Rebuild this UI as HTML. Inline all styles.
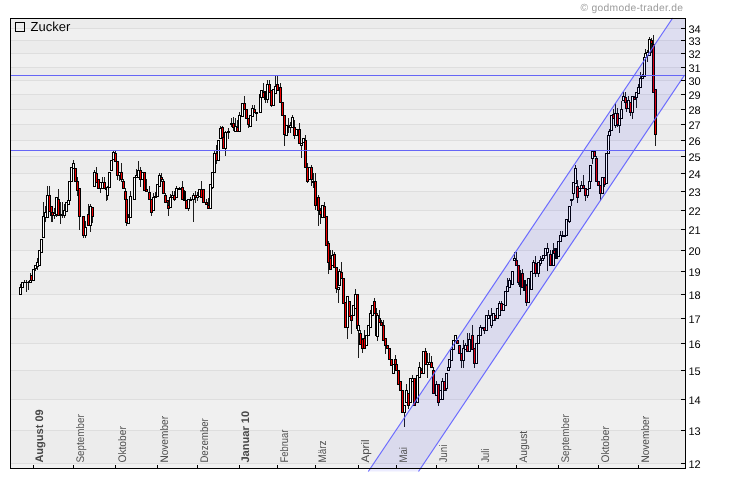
<!DOCTYPE html>
<html><head><meta charset="utf-8"><title>Zucker</title><style>html,body{margin:0;padding:0;background:#fff;}svg{will-change:transform;}svg text{text-rendering:geometricPrecision;}body{width:730px;height:481px;position:relative;overflow:hidden;font-family:"Liberation Sans",sans-serif;}</style></head><body>
<svg width="730" height="481" viewBox="0 0 730 481" style="position:absolute;left:0;top:0;font-family:'Liberation Sans',sans-serif">
<rect x="10" y="18" width="676" height="451" fill="#ececec"/>
<g shape-rendering="crispEdges"><rect x="11" y="463" width="674" height="5" fill="#f0f0f0"/><rect x="11" y="399" width="674" height="31" fill="#f0f0f0"/><rect x="11" y="343" width="674" height="27" fill="#f0f0f0"/><rect x="11" y="294" width="674" height="24" fill="#f0f0f0"/><rect x="11" y="250" width="674" height="21" fill="#f0f0f0"/><rect x="11" y="210" width="674" height="19" fill="#f0f0f0"/><rect x="11" y="173" width="674" height="18" fill="#f0f0f0"/><rect x="11" y="140" width="674" height="16" fill="#f0f0f0"/><rect x="11" y="109" width="674" height="15" fill="#f0f0f0"/><rect x="11" y="80" width="674" height="14" fill="#f0f0f0"/><rect x="11" y="53" width="674" height="14" fill="#f0f0f0"/><rect x="11" y="28" width="674" height="12" fill="#f0f0f0"/></g>
<g shape-rendering="crispEdges"><rect x="11" y="463" width="674" height="1" fill="#dedede"/><rect x="11" y="430" width="674" height="1" fill="#dedede"/><rect x="11" y="399" width="674" height="1" fill="#dedede"/><rect x="11" y="370" width="674" height="1" fill="#dedede"/><rect x="11" y="343" width="674" height="1" fill="#dedede"/><rect x="11" y="318" width="674" height="1" fill="#dedede"/><rect x="11" y="294" width="674" height="1" fill="#dedede"/><rect x="11" y="271" width="674" height="1" fill="#dedede"/><rect x="11" y="250" width="674" height="1" fill="#dedede"/><rect x="11" y="229" width="674" height="1" fill="#dedede"/><rect x="11" y="210" width="674" height="1" fill="#dedede"/><rect x="11" y="191" width="674" height="1" fill="#dedede"/><rect x="11" y="173" width="674" height="1" fill="#dedede"/><rect x="11" y="156" width="674" height="1" fill="#dedede"/><rect x="11" y="140" width="674" height="1" fill="#dedede"/><rect x="11" y="124" width="674" height="1" fill="#dedede"/><rect x="11" y="109" width="674" height="1" fill="#dedede"/><rect x="11" y="94" width="674" height="1" fill="#dedede"/><rect x="11" y="80" width="674" height="1" fill="#dedede"/><rect x="11" y="67" width="674" height="1" fill="#dedede"/><rect x="11" y="53" width="674" height="1" fill="#dedede"/><rect x="11" y="40" width="674" height="1" fill="#dedede"/><rect x="11" y="28" width="674" height="1" fill="#dedede"/></g>
<g shape-rendering="crispEdges"><rect x="43" y="202" width="1" height="36" fill="#1c1c1c"/><rect x="42" y="216" width="3" height="22" fill="#000"/><rect x="43" y="217" width="1" height="20" fill="#ffffff"/><rect x="45" y="206" width="1" height="16" fill="#1c1c1c"/><rect x="44" y="212" width="3" height="6" fill="#000"/><rect x="45" y="213" width="1" height="4" fill="#ffffff"/><rect x="47" y="186" width="1" height="32" fill="#1c1c1c"/><rect x="46" y="195" width="3" height="23" fill="#000"/><rect x="47" y="196" width="1" height="21" fill="#ffffff"/><rect x="49" y="186" width="1" height="26" fill="#1c1c1c"/><rect x="48" y="195" width="3" height="17" fill="#000"/><rect x="49" y="196" width="1" height="15" fill="#ee0000"/><rect x="51" y="206" width="1" height="16" fill="#1c1c1c"/><rect x="50" y="206" width="3" height="10" fill="#000"/><rect x="51" y="207" width="1" height="8" fill="#ee0000"/><rect x="52" y="212" width="1" height="10" fill="#1c1c1c"/><rect x="51" y="212" width="3" height="4" fill="#000"/><rect x="52" y="213" width="1" height="2" fill="#ee0000"/><rect x="54" y="208" width="1" height="11" fill="#1c1c1c"/><rect x="53" y="213" width="3" height="3" fill="#000"/><rect x="54" y="214" width="1" height="1" fill="#ffffff"/><rect x="56" y="197" width="1" height="20" fill="#1c1c1c"/><rect x="55" y="197" width="3" height="18" fill="#000"/><rect x="56" y="198" width="1" height="16" fill="#ffffff"/><rect x="58" y="189" width="1" height="27" fill="#1c1c1c"/><rect x="57" y="199" width="3" height="17" fill="#000"/><rect x="58" y="200" width="1" height="15" fill="#ee0000"/><rect x="60" y="202" width="1" height="22" fill="#1c1c1c"/><rect x="59" y="214" width="3" height="2" fill="#000"/><rect x="62" y="202" width="1" height="16" fill="#1c1c1c"/><rect x="61" y="215" width="3" height="1" fill="#000"/><rect x="64" y="204" width="1" height="14" fill="#1c1c1c"/><rect x="63" y="210" width="3" height="6" fill="#000"/><rect x="64" y="211" width="1" height="4" fill="#ffffff"/><rect x="66" y="202" width="1" height="10" fill="#1c1c1c"/><rect x="65" y="202" width="3" height="10" fill="#000"/><rect x="66" y="203" width="1" height="8" fill="#ffffff"/><rect x="68" y="200" width="1" height="5" fill="#1c1c1c"/><rect x="67" y="200" width="3" height="5" fill="#000"/><rect x="68" y="201" width="1" height="3" fill="#ffffff"/><rect x="20" y="284" width="1" height="11" fill="#1c1c1c"/><rect x="19" y="287" width="3" height="8" fill="#000"/><rect x="20" y="288" width="1" height="6" fill="#ffffff"/><rect x="22" y="282" width="1" height="6" fill="#1c1c1c"/><rect x="21" y="282" width="3" height="6" fill="#000"/><rect x="22" y="283" width="1" height="4" fill="#ffffff"/><rect x="24" y="280" width="1" height="3" fill="#1c1c1c"/><rect x="23" y="282" width="3" height="1" fill="#000"/><rect x="26" y="280" width="1" height="12" fill="#1c1c1c"/><rect x="25" y="282" width="3" height="1" fill="#000"/><rect x="28" y="281" width="1" height="9" fill="#1c1c1c"/><rect x="27" y="282" width="3" height="1" fill="#000"/><rect x="30" y="273" width="1" height="10" fill="#1c1c1c"/><rect x="29" y="280" width="3" height="3" fill="#000"/><rect x="30" y="281" width="1" height="1" fill="#ffffff"/><rect x="31" y="275" width="1" height="6" fill="#1c1c1c"/><rect x="30" y="275" width="3" height="6" fill="#000"/><rect x="31" y="276" width="1" height="4" fill="#ee0000"/><rect x="33" y="269" width="1" height="12" fill="#1c1c1c"/><rect x="32" y="269" width="3" height="12" fill="#000"/><rect x="33" y="270" width="1" height="10" fill="#ffffff"/><rect x="35" y="265" width="1" height="6" fill="#1c1c1c"/><rect x="34" y="265" width="3" height="4" fill="#000"/><rect x="35" y="266" width="1" height="2" fill="#ffffff"/><rect x="37" y="258" width="1" height="12" fill="#1c1c1c"/><rect x="36" y="262" width="3" height="5" fill="#000"/><rect x="37" y="263" width="1" height="3" fill="#ffffff"/><rect x="39" y="250" width="1" height="16" fill="#1c1c1c"/><rect x="38" y="250" width="3" height="16" fill="#000"/><rect x="39" y="251" width="1" height="14" fill="#ffffff"/><rect x="41" y="239" width="1" height="14" fill="#1c1c1c"/><rect x="40" y="239" width="3" height="14" fill="#000"/><rect x="41" y="240" width="1" height="12" fill="#ffffff"/><rect x="69" y="181" width="1" height="20" fill="#1c1c1c"/><rect x="68" y="181" width="3" height="20" fill="#000"/><rect x="69" y="182" width="1" height="18" fill="#ffffff"/><rect x="71" y="167" width="1" height="15" fill="#1c1c1c"/><rect x="70" y="167" width="3" height="15" fill="#000"/><rect x="71" y="168" width="1" height="13" fill="#ffffff"/><rect x="73" y="160" width="1" height="9" fill="#1c1c1c"/><rect x="72" y="163" width="3" height="6" fill="#000"/><rect x="73" y="164" width="1" height="4" fill="#ffffff"/><rect x="75" y="168" width="1" height="14" fill="#1c1c1c"/><rect x="74" y="168" width="3" height="14" fill="#000"/><rect x="75" y="169" width="1" height="12" fill="#ee0000"/><rect x="77" y="177" width="1" height="19" fill="#1c1c1c"/><rect x="76" y="181" width="3" height="10" fill="#000"/><rect x="77" y="182" width="1" height="8" fill="#ee0000"/><rect x="79" y="188" width="1" height="42" fill="#1c1c1c"/><rect x="78" y="188" width="3" height="29" fill="#000"/><rect x="79" y="189" width="1" height="27" fill="#ee0000"/><rect x="83" y="216" width="1" height="22" fill="#1c1c1c"/><rect x="82" y="216" width="3" height="20" fill="#000"/><rect x="83" y="217" width="1" height="18" fill="#ee0000"/><rect x="85" y="221" width="1" height="17" fill="#1c1c1c"/><rect x="84" y="227" width="3" height="9" fill="#000"/><rect x="85" y="228" width="1" height="7" fill="#ffffff"/><rect x="88" y="204" width="1" height="22" fill="#1c1c1c"/><rect x="87" y="214" width="3" height="12" fill="#000"/><rect x="88" y="215" width="1" height="10" fill="#ee0000"/><rect x="90" y="204" width="1" height="28" fill="#1c1c1c"/><rect x="89" y="206" width="3" height="20" fill="#000"/><rect x="90" y="207" width="1" height="18" fill="#ffffff"/><rect x="92" y="207" width="1" height="16" fill="#1c1c1c"/><rect x="91" y="207" width="3" height="10" fill="#000"/><rect x="92" y="208" width="1" height="8" fill="#ee0000"/><rect x="94" y="170" width="1" height="17" fill="#1c1c1c"/><rect x="93" y="172" width="3" height="15" fill="#000"/><rect x="94" y="173" width="1" height="13" fill="#ffffff"/><rect x="96" y="167" width="1" height="16" fill="#1c1c1c"/><rect x="95" y="173" width="3" height="10" fill="#000"/><rect x="96" y="174" width="1" height="8" fill="#ee0000"/><rect x="98" y="179" width="1" height="10" fill="#1c1c1c"/><rect x="97" y="179" width="3" height="10" fill="#000"/><rect x="98" y="180" width="1" height="8" fill="#ee0000"/><rect x="100" y="182" width="1" height="11" fill="#1c1c1c"/><rect x="99" y="182" width="3" height="7" fill="#000"/><rect x="100" y="183" width="1" height="5" fill="#ffffff"/><rect x="102" y="177" width="1" height="12" fill="#1c1c1c"/><rect x="101" y="182" width="3" height="7" fill="#000"/><rect x="102" y="183" width="1" height="5" fill="#ffffff"/><rect x="104" y="177" width="1" height="12" fill="#1c1c1c"/><rect x="103" y="182" width="3" height="7" fill="#000"/><rect x="104" y="183" width="1" height="5" fill="#ee0000"/><rect x="106" y="188" width="1" height="13" fill="#1c1c1c"/><rect x="105" y="188" width="3" height="2" fill="#000"/><rect x="107" y="186" width="1" height="14" fill="#1c1c1c"/><rect x="106" y="187" width="3" height="9" fill="#000"/><rect x="107" y="188" width="1" height="7" fill="#ffffff"/><rect x="109" y="172" width="1" height="16" fill="#1c1c1c"/><rect x="108" y="172" width="3" height="16" fill="#000"/><rect x="109" y="173" width="1" height="14" fill="#ffffff"/><rect x="111" y="160" width="1" height="11" fill="#1c1c1c"/><rect x="110" y="160" width="3" height="11" fill="#000"/><rect x="111" y="161" width="1" height="9" fill="#ffffff"/><rect x="113" y="151" width="1" height="9" fill="#1c1c1c"/><rect x="112" y="152" width="3" height="8" fill="#000"/><rect x="113" y="153" width="1" height="6" fill="#ffffff"/><rect x="115" y="151" width="1" height="11" fill="#1c1c1c"/><rect x="114" y="153" width="3" height="9" fill="#000"/><rect x="115" y="154" width="1" height="7" fill="#ee0000"/><rect x="117" y="161" width="1" height="19" fill="#1c1c1c"/><rect x="116" y="161" width="3" height="15" fill="#000"/><rect x="117" y="162" width="1" height="13" fill="#ee0000"/><rect x="119" y="172" width="1" height="9" fill="#1c1c1c"/><rect x="118" y="172" width="3" height="4" fill="#000"/><rect x="119" y="173" width="1" height="2" fill="#ffffff"/><rect x="121" y="163" width="1" height="19" fill="#1c1c1c"/><rect x="120" y="172" width="3" height="8" fill="#000"/><rect x="121" y="173" width="1" height="6" fill="#ee0000"/><rect x="123" y="179" width="1" height="10" fill="#1c1c1c"/><rect x="122" y="181" width="3" height="8" fill="#000"/><rect x="123" y="182" width="1" height="6" fill="#ee0000"/><rect x="125" y="188" width="1" height="12" fill="#1c1c1c"/><rect x="124" y="191" width="3" height="9" fill="#000"/><rect x="125" y="192" width="1" height="7" fill="#ee0000"/><rect x="126" y="199" width="1" height="27" fill="#1c1c1c"/><rect x="125" y="199" width="3" height="24" fill="#000"/><rect x="126" y="200" width="1" height="22" fill="#ee0000"/><rect x="128" y="214" width="1" height="10" fill="#1c1c1c"/><rect x="127" y="217" width="3" height="7" fill="#000"/><rect x="128" y="218" width="1" height="5" fill="#ffffff"/><rect x="130" y="191" width="1" height="27" fill="#1c1c1c"/><rect x="129" y="196" width="3" height="22" fill="#000"/><rect x="130" y="197" width="1" height="20" fill="#ffffff"/><rect x="134" y="177" width="1" height="23" fill="#1c1c1c"/><rect x="133" y="177" width="3" height="23" fill="#000"/><rect x="134" y="178" width="1" height="21" fill="#ffffff"/><rect x="136" y="169" width="1" height="9" fill="#1c1c1c"/><rect x="135" y="175" width="3" height="3" fill="#000"/><rect x="136" y="176" width="1" height="1" fill="#ffffff"/><rect x="138" y="161" width="1" height="17" fill="#1c1c1c"/><rect x="137" y="170" width="3" height="8" fill="#000"/><rect x="138" y="171" width="1" height="6" fill="#ffffff"/><rect x="140" y="167" width="1" height="20" fill="#1c1c1c"/><rect x="139" y="170" width="3" height="10" fill="#000"/><rect x="140" y="171" width="1" height="8" fill="#ee0000"/><rect x="142" y="172" width="1" height="8" fill="#1c1c1c"/><rect x="141" y="172" width="3" height="8" fill="#000"/><rect x="142" y="173" width="1" height="6" fill="#ffffff"/><rect x="144" y="172" width="1" height="19" fill="#1c1c1c"/><rect x="143" y="172" width="3" height="19" fill="#000"/><rect x="144" y="173" width="1" height="17" fill="#ee0000"/><rect x="146" y="179" width="1" height="13" fill="#1c1c1c"/><rect x="145" y="189" width="3" height="3" fill="#000"/><rect x="146" y="190" width="1" height="1" fill="#ee0000"/><rect x="149" y="186" width="1" height="14" fill="#1c1c1c"/><rect x="148" y="192" width="3" height="8" fill="#000"/><rect x="149" y="193" width="1" height="6" fill="#ee0000"/><rect x="151" y="199" width="1" height="17" fill="#1c1c1c"/><rect x="150" y="199" width="3" height="14" fill="#000"/><rect x="151" y="200" width="1" height="12" fill="#ee0000"/><rect x="153" y="193" width="1" height="18" fill="#1c1c1c"/><rect x="152" y="197" width="3" height="14" fill="#000"/><rect x="153" y="198" width="1" height="12" fill="#ffffff"/><rect x="155" y="192" width="1" height="6" fill="#1c1c1c"/><rect x="154" y="196" width="3" height="2" fill="#000"/><rect x="157" y="184" width="1" height="13" fill="#1c1c1c"/><rect x="156" y="184" width="3" height="13" fill="#000"/><rect x="157" y="185" width="1" height="11" fill="#ffffff"/><rect x="159" y="173" width="1" height="14" fill="#1c1c1c"/><rect x="158" y="175" width="3" height="12" fill="#000"/><rect x="159" y="176" width="1" height="10" fill="#ffffff"/><rect x="161" y="173" width="1" height="9" fill="#1c1c1c"/><rect x="160" y="177" width="3" height="3" fill="#000"/><rect x="161" y="178" width="1" height="1" fill="#ee0000"/><rect x="163" y="179" width="1" height="15" fill="#1c1c1c"/><rect x="162" y="181" width="3" height="13" fill="#000"/><rect x="163" y="182" width="1" height="11" fill="#ee0000"/><rect x="165" y="193" width="1" height="10" fill="#1c1c1c"/><rect x="164" y="195" width="3" height="8" fill="#000"/><rect x="165" y="196" width="1" height="6" fill="#ee0000"/><rect x="167" y="200" width="1" height="5" fill="#1c1c1c"/><rect x="166" y="200" width="3" height="3" fill="#000"/><rect x="167" y="201" width="1" height="1" fill="#ee0000"/><rect x="168" y="202" width="1" height="14" fill="#1c1c1c"/><rect x="167" y="205" width="3" height="4" fill="#000"/><rect x="168" y="206" width="1" height="2" fill="#ee0000"/><rect x="170" y="194" width="1" height="14" fill="#1c1c1c"/><rect x="169" y="197" width="3" height="11" fill="#000"/><rect x="170" y="198" width="1" height="9" fill="#ffffff"/><rect x="172" y="191" width="1" height="7" fill="#1c1c1c"/><rect x="171" y="195" width="3" height="3" fill="#000"/><rect x="172" y="196" width="1" height="1" fill="#ffffff"/><rect x="174" y="191" width="1" height="10" fill="#1c1c1c"/><rect x="173" y="195" width="3" height="5" fill="#000"/><rect x="174" y="196" width="1" height="3" fill="#ee0000"/><rect x="176" y="186" width="1" height="12" fill="#1c1c1c"/><rect x="175" y="188" width="3" height="10" fill="#000"/><rect x="176" y="189" width="1" height="8" fill="#ffffff"/><rect x="179" y="187" width="1" height="3" fill="#1c1c1c"/><rect x="178" y="188" width="3" height="2" fill="#000"/><rect x="182" y="181" width="1" height="19" fill="#1c1c1c"/><rect x="181" y="187" width="3" height="13" fill="#000"/><rect x="182" y="188" width="1" height="11" fill="#ee0000"/><rect x="184" y="190" width="1" height="11" fill="#1c1c1c"/><rect x="183" y="191" width="3" height="10" fill="#000"/><rect x="184" y="192" width="1" height="8" fill="#000000"/><rect x="186" y="200" width="1" height="9" fill="#1c1c1c"/><rect x="185" y="200" width="3" height="9" fill="#000"/><rect x="186" y="201" width="1" height="7" fill="#ee0000"/><rect x="188" y="199" width="1" height="12" fill="#1c1c1c"/><rect x="187" y="199" width="3" height="10" fill="#000"/><rect x="188" y="200" width="1" height="8" fill="#ffffff"/><rect x="190" y="197" width="1" height="4" fill="#1c1c1c"/><rect x="189" y="199" width="3" height="2" fill="#000"/><rect x="193" y="193" width="1" height="29" fill="#1c1c1c"/><rect x="192" y="195" width="3" height="5" fill="#000"/><rect x="193" y="196" width="1" height="3" fill="#ffffff"/><rect x="195" y="191" width="1" height="12" fill="#1c1c1c"/><rect x="194" y="195" width="3" height="3" fill="#000"/><rect x="195" y="196" width="1" height="1" fill="#ee0000"/><rect x="197" y="192" width="1" height="9" fill="#1c1c1c"/><rect x="196" y="195" width="3" height="3" fill="#000"/><rect x="197" y="196" width="1" height="1" fill="#ffffff"/><rect x="199" y="189" width="1" height="8" fill="#1c1c1c"/><rect x="198" y="189" width="3" height="8" fill="#000"/><rect x="199" y="190" width="1" height="6" fill="#ffffff"/><rect x="201" y="181" width="1" height="17" fill="#1c1c1c"/><rect x="200" y="189" width="3" height="9" fill="#000"/><rect x="201" y="190" width="1" height="7" fill="#ee0000"/><rect x="203" y="189" width="1" height="14" fill="#1c1c1c"/><rect x="202" y="189" width="3" height="14" fill="#000"/><rect x="203" y="190" width="1" height="12" fill="#ee0000"/><rect x="206" y="199" width="1" height="6" fill="#1c1c1c"/><rect x="205" y="202" width="3" height="3" fill="#000"/><rect x="206" y="203" width="1" height="1" fill="#ee0000"/><rect x="208" y="198" width="1" height="11" fill="#1c1c1c"/><rect x="207" y="205" width="3" height="4" fill="#000"/><rect x="208" y="206" width="1" height="2" fill="#ee0000"/><rect x="210" y="184" width="1" height="25" fill="#1c1c1c"/><rect x="209" y="184" width="3" height="25" fill="#000"/><rect x="210" y="185" width="1" height="23" fill="#ffffff"/><rect x="212" y="172" width="1" height="17" fill="#1c1c1c"/><rect x="211" y="172" width="3" height="16" fill="#000"/><rect x="212" y="173" width="1" height="14" fill="#ffffff"/><rect x="214" y="150" width="1" height="23" fill="#1c1c1c"/><rect x="213" y="153" width="3" height="20" fill="#000"/><rect x="214" y="154" width="1" height="18" fill="#ffffff"/><rect x="216" y="145" width="1" height="19" fill="#1c1c1c"/><rect x="215" y="153" width="3" height="8" fill="#000"/><rect x="216" y="154" width="1" height="6" fill="#ee0000"/><rect x="218" y="140" width="1" height="21" fill="#1c1c1c"/><rect x="217" y="140" width="3" height="21" fill="#000"/><rect x="218" y="141" width="1" height="19" fill="#ffffff"/><rect x="220" y="126" width="1" height="13" fill="#1c1c1c"/><rect x="219" y="128" width="3" height="11" fill="#000"/><rect x="220" y="129" width="1" height="9" fill="#ffffff"/><rect x="222" y="126" width="1" height="12" fill="#1c1c1c"/><rect x="221" y="127" width="3" height="11" fill="#000"/><rect x="222" y="128" width="1" height="9" fill="#ee0000"/><rect x="223" y="137" width="1" height="12" fill="#1c1c1c"/><rect x="222" y="137" width="3" height="12" fill="#000"/><rect x="223" y="138" width="1" height="10" fill="#ee0000"/><rect x="225" y="131" width="1" height="25" fill="#1c1c1c"/><rect x="224" y="132" width="3" height="17" fill="#000"/><rect x="225" y="133" width="1" height="15" fill="#ffffff"/><rect x="228" y="128" width="1" height="11" fill="#1c1c1c"/><rect x="227" y="131" width="3" height="2" fill="#000"/><rect x="231" y="118" width="1" height="9" fill="#1c1c1c"/><rect x="230" y="123" width="3" height="2" fill="#000"/><rect x="233" y="117" width="1" height="14" fill="#1c1c1c"/><rect x="232" y="123" width="3" height="5" fill="#000"/><rect x="233" y="124" width="1" height="3" fill="#ee0000"/><rect x="235" y="118" width="1" height="14" fill="#1c1c1c"/><rect x="234" y="126" width="3" height="6" fill="#000"/><rect x="235" y="127" width="1" height="4" fill="#ffffff"/><rect x="237" y="120" width="1" height="12" fill="#1c1c1c"/><rect x="236" y="127" width="3" height="5" fill="#000"/><rect x="237" y="128" width="1" height="3" fill="#ee0000"/><rect x="239" y="112" width="1" height="20" fill="#1c1c1c"/><rect x="238" y="115" width="3" height="17" fill="#000"/><rect x="239" y="116" width="1" height="15" fill="#ffffff"/><rect x="242" y="103" width="1" height="14" fill="#1c1c1c"/><rect x="241" y="103" width="3" height="14" fill="#000"/><rect x="242" y="104" width="1" height="12" fill="#ffffff"/><rect x="244" y="96" width="1" height="14" fill="#1c1c1c"/><rect x="243" y="103" width="3" height="7" fill="#000"/><rect x="244" y="104" width="1" height="5" fill="#ee0000"/><rect x="246" y="109" width="1" height="10" fill="#1c1c1c"/><rect x="245" y="109" width="3" height="10" fill="#000"/><rect x="246" y="110" width="1" height="8" fill="#ee0000"/><rect x="248" y="118" width="1" height="10" fill="#1c1c1c"/><rect x="247" y="118" width="3" height="7" fill="#000"/><rect x="248" y="119" width="1" height="5" fill="#ee0000"/><rect x="250" y="115" width="1" height="12" fill="#1c1c1c"/><rect x="249" y="115" width="3" height="12" fill="#000"/><rect x="250" y="116" width="1" height="10" fill="#ffffff"/><rect x="252" y="105" width="1" height="12" fill="#1c1c1c"/><rect x="251" y="108" width="3" height="9" fill="#000"/><rect x="252" y="109" width="1" height="7" fill="#ffffff"/><rect x="254" y="105" width="1" height="8" fill="#1c1c1c"/><rect x="253" y="109" width="3" height="4" fill="#000"/><rect x="254" y="110" width="1" height="2" fill="#ee0000"/><rect x="256" y="112" width="1" height="9" fill="#1c1c1c"/><rect x="255" y="112" width="3" height="2" fill="#000"/><rect x="260" y="94" width="1" height="19" fill="#1c1c1c"/><rect x="259" y="94" width="3" height="19" fill="#000"/><rect x="260" y="95" width="1" height="17" fill="#ffffff"/><rect x="261" y="90" width="1" height="8" fill="#1c1c1c"/><rect x="260" y="90" width="3" height="8" fill="#000"/><rect x="261" y="91" width="1" height="6" fill="#ffffff"/><rect x="263" y="83" width="1" height="15" fill="#1c1c1c"/><rect x="262" y="92" width="3" height="6" fill="#000"/><rect x="263" y="93" width="1" height="4" fill="#ee0000"/><rect x="265" y="91" width="1" height="12" fill="#1c1c1c"/><rect x="264" y="91" width="3" height="9" fill="#000"/><rect x="265" y="92" width="1" height="7" fill="#000000"/><rect x="267" y="80" width="1" height="23" fill="#1c1c1c"/><rect x="266" y="84" width="3" height="16" fill="#000"/><rect x="267" y="85" width="1" height="14" fill="#ffffff"/><rect x="269" y="80" width="1" height="13" fill="#1c1c1c"/><rect x="268" y="84" width="3" height="9" fill="#000"/><rect x="269" y="85" width="1" height="7" fill="#ee0000"/><rect x="271" y="90" width="1" height="17" fill="#1c1c1c"/><rect x="270" y="90" width="3" height="16" fill="#000"/><rect x="271" y="91" width="1" height="14" fill="#ee0000"/><rect x="273" y="89" width="1" height="17" fill="#1c1c1c"/><rect x="272" y="89" width="3" height="17" fill="#000"/><rect x="273" y="90" width="1" height="15" fill="#ffffff"/><rect x="275" y="76" width="1" height="18" fill="#1c1c1c"/><rect x="274" y="86" width="3" height="8" fill="#000"/><rect x="275" y="87" width="1" height="6" fill="#ffffff"/><rect x="277" y="76" width="1" height="15" fill="#1c1c1c"/><rect x="276" y="84" width="3" height="7" fill="#000"/><rect x="277" y="85" width="1" height="5" fill="#ee0000"/><rect x="280" y="83" width="1" height="20" fill="#1c1c1c"/><rect x="279" y="87" width="3" height="16" fill="#000"/><rect x="280" y="88" width="1" height="14" fill="#ee0000"/><rect x="282" y="102" width="1" height="14" fill="#1c1c1c"/><rect x="281" y="102" width="3" height="14" fill="#000"/><rect x="282" y="103" width="1" height="12" fill="#ee0000"/><rect x="284" y="115" width="1" height="31" fill="#1c1c1c"/><rect x="283" y="115" width="3" height="20" fill="#000"/><rect x="284" y="116" width="1" height="18" fill="#ee0000"/><rect x="286" y="125" width="1" height="11" fill="#1c1c1c"/><rect x="285" y="125" width="3" height="11" fill="#000"/><rect x="286" y="126" width="1" height="9" fill="#ffffff"/><rect x="288" y="118" width="1" height="15" fill="#1c1c1c"/><rect x="287" y="126" width="3" height="2" fill="#000"/><rect x="290" y="122" width="1" height="11" fill="#1c1c1c"/><rect x="289" y="125" width="3" height="3" fill="#000"/><rect x="290" y="126" width="1" height="1" fill="#ffffff"/><rect x="292" y="115" width="1" height="13" fill="#1c1c1c"/><rect x="291" y="117" width="3" height="11" fill="#000"/><rect x="292" y="118" width="1" height="9" fill="#ffffff"/><rect x="294" y="120" width="1" height="19" fill="#1c1c1c"/><rect x="293" y="127" width="3" height="9" fill="#000"/><rect x="294" y="128" width="1" height="7" fill="#ee0000"/><rect x="296" y="129" width="1" height="7" fill="#1c1c1c"/><rect x="295" y="129" width="3" height="7" fill="#000"/><rect x="296" y="130" width="1" height="5" fill="#ffffff"/><rect x="299" y="123" width="1" height="21" fill="#1c1c1c"/><rect x="298" y="129" width="3" height="15" fill="#000"/><rect x="299" y="130" width="1" height="13" fill="#ee0000"/><rect x="301" y="143" width="1" height="15" fill="#1c1c1c"/><rect x="300" y="143" width="3" height="3" fill="#000"/><rect x="301" y="144" width="1" height="1" fill="#ffffff"/><rect x="303" y="138" width="1" height="5" fill="#1c1c1c"/><rect x="302" y="138" width="3" height="5" fill="#000"/><rect x="303" y="139" width="1" height="3" fill="#ffffff"/><rect x="305" y="135" width="1" height="33" fill="#1c1c1c"/><rect x="304" y="140" width="3" height="28" fill="#000"/><rect x="305" y="141" width="1" height="26" fill="#ee0000"/><rect x="307" y="163" width="1" height="20" fill="#1c1c1c"/><rect x="306" y="167" width="3" height="15" fill="#000"/><rect x="307" y="168" width="1" height="13" fill="#ee0000"/><rect x="309" y="167" width="1" height="13" fill="#1c1c1c"/><rect x="308" y="167" width="3" height="13" fill="#000"/><rect x="309" y="168" width="1" height="11" fill="#ffffff"/><rect x="311" y="165" width="1" height="21" fill="#1c1c1c"/><rect x="310" y="167" width="3" height="13" fill="#000"/><rect x="311" y="168" width="1" height="11" fill="#ee0000"/><rect x="313" y="173" width="1" height="15" fill="#1c1c1c"/><rect x="312" y="181" width="3" height="2" fill="#000"/><rect x="315" y="173" width="1" height="37" fill="#1c1c1c"/><rect x="314" y="181" width="3" height="25" fill="#000"/><rect x="315" y="182" width="1" height="23" fill="#ee0000"/><rect x="318" y="195" width="1" height="31" fill="#1c1c1c"/><rect x="317" y="197" width="3" height="14" fill="#000"/><rect x="318" y="198" width="1" height="12" fill="#ee0000"/><rect x="320" y="208" width="1" height="16" fill="#1c1c1c"/><rect x="319" y="210" width="3" height="5" fill="#000"/><rect x="320" y="211" width="1" height="3" fill="#ee0000"/><rect x="322" y="205" width="1" height="13" fill="#1c1c1c"/><rect x="321" y="205" width="3" height="13" fill="#000"/><rect x="322" y="206" width="1" height="11" fill="#ffffff"/><rect x="324" y="202" width="1" height="16" fill="#1c1c1c"/><rect x="323" y="206" width="3" height="12" fill="#000"/><rect x="324" y="207" width="1" height="10" fill="#ee0000"/><rect x="326" y="216" width="1" height="30" fill="#1c1c1c"/><rect x="325" y="216" width="3" height="30" fill="#000"/><rect x="326" y="217" width="1" height="28" fill="#ee0000"/><rect x="328" y="241" width="1" height="33" fill="#1c1c1c"/><rect x="327" y="243" width="3" height="20" fill="#000"/><rect x="328" y="244" width="1" height="18" fill="#ee0000"/><rect x="330" y="250" width="1" height="20" fill="#1c1c1c"/><rect x="329" y="258" width="3" height="12" fill="#000"/><rect x="330" y="259" width="1" height="10" fill="#ee0000"/><rect x="332" y="250" width="1" height="16" fill="#1c1c1c"/><rect x="331" y="255" width="3" height="11" fill="#000"/><rect x="332" y="256" width="1" height="9" fill="#ffffff"/><rect x="334" y="252" width="1" height="16" fill="#1c1c1c"/><rect x="333" y="254" width="3" height="14" fill="#000"/><rect x="334" y="255" width="1" height="12" fill="#ee0000"/><rect x="336" y="267" width="1" height="26" fill="#1c1c1c"/><rect x="335" y="267" width="3" height="22" fill="#000"/><rect x="336" y="268" width="1" height="20" fill="#ee0000"/><rect x="338" y="287" width="1" height="16" fill="#1c1c1c"/><rect x="337" y="287" width="3" height="3" fill="#000"/><rect x="338" y="288" width="1" height="1" fill="#ffffff"/><rect x="339" y="269" width="1" height="17" fill="#1c1c1c"/><rect x="338" y="271" width="3" height="15" fill="#000"/><rect x="339" y="272" width="1" height="13" fill="#ffffff"/><rect x="341" y="262" width="1" height="17" fill="#1c1c1c"/><rect x="340" y="272" width="3" height="7" fill="#000"/><rect x="341" y="273" width="1" height="5" fill="#ee0000"/><rect x="343" y="278" width="1" height="26" fill="#1c1c1c"/><rect x="342" y="278" width="3" height="26" fill="#000"/><rect x="343" y="279" width="1" height="24" fill="#ee0000"/><rect x="345" y="302" width="1" height="26" fill="#1c1c1c"/><rect x="344" y="302" width="3" height="26" fill="#000"/><rect x="345" y="303" width="1" height="24" fill="#ee0000"/><rect x="347" y="296" width="1" height="43" fill="#1c1c1c"/><rect x="346" y="296" width="3" height="32" fill="#000"/><rect x="347" y="297" width="1" height="30" fill="#ffffff"/><rect x="349" y="301" width="1" height="16" fill="#1c1c1c"/><rect x="348" y="301" width="3" height="16" fill="#000"/><rect x="349" y="302" width="1" height="14" fill="#ee0000"/><rect x="351" y="315" width="1" height="19" fill="#1c1c1c"/><rect x="350" y="315" width="3" height="6" fill="#000"/><rect x="351" y="316" width="1" height="4" fill="#ee0000"/><rect x="353" y="305" width="1" height="11" fill="#1c1c1c"/><rect x="352" y="305" width="3" height="11" fill="#000"/><rect x="353" y="306" width="1" height="9" fill="#ffffff"/><rect x="355" y="289" width="1" height="20" fill="#1c1c1c"/><rect x="354" y="294" width="3" height="15" fill="#000"/><rect x="355" y="295" width="1" height="13" fill="#ffffff"/><rect x="357" y="294" width="1" height="35" fill="#1c1c1c"/><rect x="356" y="294" width="3" height="35" fill="#000"/><rect x="357" y="295" width="1" height="33" fill="#ee0000"/><rect x="358" y="325" width="1" height="33" fill="#1c1c1c"/><rect x="357" y="325" width="3" height="6" fill="#000"/><rect x="358" y="326" width="1" height="4" fill="#ffffff"/><rect x="360" y="330" width="1" height="15" fill="#1c1c1c"/><rect x="359" y="333" width="3" height="12" fill="#000"/><rect x="360" y="334" width="1" height="10" fill="#ee0000"/><rect x="362" y="338" width="1" height="15" fill="#1c1c1c"/><rect x="361" y="339" width="3" height="10" fill="#000"/><rect x="362" y="340" width="1" height="8" fill="#ee0000"/><rect x="364" y="330" width="1" height="19" fill="#1c1c1c"/><rect x="363" y="338" width="3" height="11" fill="#000"/><rect x="364" y="339" width="1" height="9" fill="#ee0000"/><rect x="366" y="335" width="1" height="11" fill="#1c1c1c"/><rect x="365" y="335" width="3" height="11" fill="#000"/><rect x="366" y="336" width="1" height="9" fill="#ffffff"/><rect x="368" y="325" width="1" height="11" fill="#1c1c1c"/><rect x="367" y="325" width="3" height="11" fill="#000"/><rect x="368" y="326" width="1" height="9" fill="#ffffff"/><rect x="370" y="310" width="1" height="18" fill="#1c1c1c"/><rect x="369" y="313" width="3" height="15" fill="#000"/><rect x="370" y="314" width="1" height="13" fill="#ffffff"/><rect x="372" y="305" width="1" height="11" fill="#1c1c1c"/><rect x="371" y="305" width="3" height="11" fill="#000"/><rect x="372" y="306" width="1" height="9" fill="#ffffff"/><rect x="374" y="298" width="1" height="16" fill="#1c1c1c"/><rect x="373" y="301" width="3" height="13" fill="#000"/><rect x="374" y="302" width="1" height="11" fill="#ee0000"/><rect x="376" y="308" width="1" height="28" fill="#1c1c1c"/><rect x="375" y="313" width="3" height="23" fill="#000"/><rect x="376" y="314" width="1" height="21" fill="#ee0000"/><rect x="377" y="313" width="1" height="28" fill="#1c1c1c"/><rect x="376" y="315" width="3" height="22" fill="#000"/><rect x="377" y="316" width="1" height="20" fill="#ffffff"/><rect x="379" y="310" width="1" height="13" fill="#1c1c1c"/><rect x="378" y="318" width="3" height="5" fill="#000"/><rect x="379" y="319" width="1" height="3" fill="#ee0000"/><rect x="381" y="320" width="1" height="6" fill="#1c1c1c"/><rect x="380" y="322" width="3" height="4" fill="#000"/><rect x="381" y="323" width="1" height="2" fill="#ee0000"/><rect x="383" y="320" width="1" height="21" fill="#1c1c1c"/><rect x="382" y="325" width="3" height="16" fill="#000"/><rect x="383" y="326" width="1" height="14" fill="#ee0000"/><rect x="385" y="338" width="1" height="16" fill="#1c1c1c"/><rect x="384" y="338" width="3" height="8" fill="#000"/><rect x="385" y="339" width="1" height="6" fill="#ee0000"/><rect x="387" y="345" width="1" height="4" fill="#1c1c1c"/><rect x="386" y="345" width="3" height="4" fill="#000"/><rect x="387" y="346" width="1" height="2" fill="#ee0000"/><rect x="389" y="348" width="1" height="12" fill="#1c1c1c"/><rect x="388" y="348" width="3" height="12" fill="#000"/><rect x="389" y="349" width="1" height="10" fill="#ee0000"/><rect x="391" y="359" width="1" height="7" fill="#1c1c1c"/><rect x="390" y="359" width="3" height="7" fill="#000"/><rect x="391" y="360" width="1" height="5" fill="#ee0000"/><rect x="393" y="364" width="1" height="10" fill="#1c1c1c"/><rect x="392" y="364" width="3" height="10" fill="#000"/><rect x="393" y="365" width="1" height="8" fill="#ffffff"/><rect x="395" y="355" width="1" height="10" fill="#1c1c1c"/><rect x="394" y="359" width="3" height="6" fill="#000"/><rect x="395" y="360" width="1" height="4" fill="#ee0000"/><rect x="396" y="364" width="1" height="7" fill="#1c1c1c"/><rect x="395" y="364" width="3" height="7" fill="#000"/><rect x="396" y="365" width="1" height="5" fill="#ee0000"/><rect x="398" y="370" width="1" height="15" fill="#1c1c1c"/><rect x="397" y="370" width="3" height="15" fill="#000"/><rect x="398" y="371" width="1" height="13" fill="#ee0000"/><rect x="400" y="381" width="1" height="10" fill="#1c1c1c"/><rect x="399" y="381" width="3" height="10" fill="#000"/><rect x="400" y="382" width="1" height="8" fill="#ee0000"/><rect x="402" y="390" width="1" height="23" fill="#1c1c1c"/><rect x="401" y="390" width="3" height="23" fill="#000"/><rect x="402" y="391" width="1" height="21" fill="#ee0000"/><rect x="404" y="405" width="1" height="22" fill="#1c1c1c"/><rect x="403" y="405" width="3" height="8" fill="#000"/><rect x="404" y="406" width="1" height="6" fill="#ffffff"/><rect x="406" y="384" width="1" height="19" fill="#1c1c1c"/><rect x="405" y="390" width="3" height="13" fill="#000"/><rect x="406" y="391" width="1" height="11" fill="#ffffff"/><rect x="408" y="393" width="1" height="16" fill="#1c1c1c"/><rect x="407" y="393" width="3" height="13" fill="#000"/><rect x="408" y="394" width="1" height="11" fill="#ee0000"/><rect x="410" y="378" width="1" height="25" fill="#1c1c1c"/><rect x="409" y="378" width="3" height="25" fill="#000"/><rect x="410" y="379" width="1" height="23" fill="#ffffff"/><rect x="412" y="375" width="1" height="7" fill="#1c1c1c"/><rect x="411" y="378" width="3" height="4" fill="#000"/><rect x="412" y="379" width="1" height="2" fill="#ffffff"/><rect x="414" y="378" width="1" height="28" fill="#1c1c1c"/><rect x="413" y="378" width="3" height="28" fill="#000"/><rect x="414" y="379" width="1" height="26" fill="#ee0000"/><rect x="417" y="375" width="1" height="28" fill="#1c1c1c"/><rect x="416" y="375" width="3" height="28" fill="#000"/><rect x="417" y="376" width="1" height="26" fill="#ffffff"/><rect x="419" y="362" width="1" height="16" fill="#1c1c1c"/><rect x="418" y="367" width="3" height="11" fill="#000"/><rect x="419" y="368" width="1" height="9" fill="#ffffff"/><rect x="421" y="368" width="1" height="6" fill="#1c1c1c"/><rect x="420" y="370" width="3" height="4" fill="#000"/><rect x="421" y="371" width="1" height="2" fill="#ee0000"/><rect x="423" y="351" width="1" height="23" fill="#1c1c1c"/><rect x="422" y="351" width="3" height="23" fill="#000"/><rect x="423" y="352" width="1" height="21" fill="#ffffff"/><rect x="425" y="348" width="1" height="17" fill="#1c1c1c"/><rect x="424" y="351" width="3" height="14" fill="#000"/><rect x="425" y="352" width="1" height="12" fill="#ee0000"/><rect x="427" y="353" width="1" height="25" fill="#1c1c1c"/><rect x="426" y="362" width="3" height="3" fill="#000"/><rect x="427" y="363" width="1" height="1" fill="#ffffff"/><rect x="429" y="353" width="1" height="12" fill="#1c1c1c"/><rect x="428" y="362" width="3" height="3" fill="#000"/><rect x="429" y="363" width="1" height="1" fill="#ffffff"/><rect x="431" y="356" width="1" height="12" fill="#1c1c1c"/><rect x="430" y="362" width="3" height="6" fill="#000"/><rect x="431" y="363" width="1" height="4" fill="#ee0000"/><rect x="433" y="367" width="1" height="27" fill="#1c1c1c"/><rect x="432" y="370" width="3" height="24" fill="#000"/><rect x="433" y="371" width="1" height="22" fill="#ee0000"/><rect x="436" y="381" width="1" height="15" fill="#1c1c1c"/><rect x="435" y="384" width="3" height="12" fill="#000"/><rect x="436" y="385" width="1" height="10" fill="#ffffff"/><rect x="438" y="384" width="1" height="22" fill="#1c1c1c"/><rect x="437" y="384" width="3" height="19" fill="#000"/><rect x="438" y="385" width="1" height="17" fill="#ee0000"/><rect x="440" y="390" width="1" height="10" fill="#1c1c1c"/><rect x="439" y="390" width="3" height="10" fill="#000"/><rect x="440" y="391" width="1" height="8" fill="#ffffff"/><rect x="442" y="378" width="1" height="22" fill="#1c1c1c"/><rect x="441" y="381" width="3" height="19" fill="#000"/><rect x="442" y="382" width="1" height="17" fill="#ffffff"/><rect x="444" y="381" width="1" height="10" fill="#1c1c1c"/><rect x="443" y="381" width="3" height="10" fill="#000"/><rect x="444" y="382" width="1" height="8" fill="#ee0000"/><rect x="446" y="373" width="1" height="18" fill="#1c1c1c"/><rect x="445" y="373" width="3" height="16" fill="#000"/><rect x="446" y="374" width="1" height="14" fill="#ffffff"/><rect x="448" y="365" width="1" height="6" fill="#1c1c1c"/><rect x="447" y="367" width="3" height="4" fill="#000"/><rect x="448" y="368" width="1" height="2" fill="#ffffff"/><rect x="449" y="359" width="1" height="9" fill="#1c1c1c"/><rect x="448" y="359" width="3" height="9" fill="#000"/><rect x="449" y="360" width="1" height="7" fill="#ffffff"/><rect x="451" y="349" width="1" height="12" fill="#1c1c1c"/><rect x="450" y="349" width="3" height="12" fill="#000"/><rect x="451" y="350" width="1" height="10" fill="#ffffff"/><rect x="453" y="340" width="1" height="10" fill="#1c1c1c"/><rect x="452" y="340" width="3" height="10" fill="#000"/><rect x="453" y="341" width="1" height="8" fill="#ffffff"/><rect x="455" y="335" width="1" height="6" fill="#1c1c1c"/><rect x="454" y="335" width="3" height="6" fill="#000"/><rect x="455" y="336" width="1" height="4" fill="#ffffff"/><rect x="457" y="340" width="1" height="4" fill="#1c1c1c"/><rect x="456" y="340" width="3" height="4" fill="#000"/><rect x="457" y="341" width="1" height="2" fill="#ee0000"/><rect x="459" y="345" width="1" height="9" fill="#1c1c1c"/><rect x="458" y="345" width="3" height="9" fill="#000"/><rect x="459" y="346" width="1" height="7" fill="#ee0000"/><rect x="461" y="353" width="1" height="15" fill="#1c1c1c"/><rect x="460" y="353" width="3" height="8" fill="#000"/><rect x="461" y="354" width="1" height="6" fill="#ee0000"/><rect x="463" y="340" width="1" height="28" fill="#1c1c1c"/><rect x="462" y="348" width="3" height="13" fill="#000"/><rect x="463" y="349" width="1" height="11" fill="#ffffff"/><rect x="465" y="343" width="1" height="7" fill="#1c1c1c"/><rect x="464" y="345" width="3" height="5" fill="#000"/><rect x="465" y="346" width="1" height="3" fill="#ffffff"/><rect x="467" y="333" width="1" height="19" fill="#1c1c1c"/><rect x="466" y="345" width="3" height="7" fill="#000"/><rect x="467" y="346" width="1" height="5" fill="#ee0000"/><rect x="469" y="333" width="1" height="19" fill="#1c1c1c"/><rect x="468" y="339" width="3" height="13" fill="#000"/><rect x="469" y="340" width="1" height="11" fill="#ffffff"/><rect x="472" y="325" width="1" height="25" fill="#1c1c1c"/><rect x="471" y="335" width="3" height="15" fill="#000"/><rect x="472" y="336" width="1" height="13" fill="#ee0000"/><rect x="474" y="348" width="1" height="20" fill="#1c1c1c"/><rect x="473" y="348" width="3" height="16" fill="#000"/><rect x="474" y="349" width="1" height="14" fill="#ee0000"/><rect x="476" y="343" width="1" height="21" fill="#1c1c1c"/><rect x="475" y="343" width="3" height="21" fill="#000"/><rect x="476" y="344" width="1" height="19" fill="#ffffff"/><rect x="478" y="335" width="1" height="9" fill="#1c1c1c"/><rect x="477" y="335" width="3" height="9" fill="#000"/><rect x="478" y="336" width="1" height="7" fill="#ffffff"/><rect x="480" y="325" width="1" height="11" fill="#1c1c1c"/><rect x="479" y="327" width="3" height="9" fill="#000"/><rect x="480" y="328" width="1" height="7" fill="#ffffff"/><rect x="482" y="327" width="1" height="2" fill="#1c1c1c"/><rect x="481" y="327" width="3" height="2" fill="#000"/><rect x="484" y="327" width="1" height="7" fill="#1c1c1c"/><rect x="483" y="327" width="3" height="4" fill="#000"/><rect x="484" y="328" width="1" height="2" fill="#ee0000"/><rect x="486" y="315" width="1" height="16" fill="#1c1c1c"/><rect x="485" y="315" width="3" height="16" fill="#000"/><rect x="486" y="316" width="1" height="14" fill="#ffffff"/><rect x="488" y="310" width="1" height="9" fill="#1c1c1c"/><rect x="487" y="315" width="3" height="4" fill="#000"/><rect x="488" y="316" width="1" height="2" fill="#ffffff"/><rect x="491" y="308" width="1" height="20" fill="#1c1c1c"/><rect x="490" y="315" width="3" height="11" fill="#000"/><rect x="491" y="316" width="1" height="9" fill="#ffffff"/><rect x="493" y="313" width="1" height="8" fill="#1c1c1c"/><rect x="492" y="313" width="3" height="8" fill="#000"/><rect x="493" y="314" width="1" height="6" fill="#ffffff"/><rect x="495" y="315" width="1" height="6" fill="#1c1c1c"/><rect x="494" y="315" width="3" height="4" fill="#000"/><rect x="495" y="316" width="1" height="2" fill="#ee0000"/><rect x="497" y="308" width="1" height="11" fill="#1c1c1c"/><rect x="496" y="308" width="3" height="11" fill="#000"/><rect x="497" y="309" width="1" height="9" fill="#ffffff"/><rect x="499" y="301" width="1" height="15" fill="#1c1c1c"/><rect x="498" y="303" width="3" height="13" fill="#000"/><rect x="499" y="304" width="1" height="11" fill="#ffffff"/><rect x="501" y="301" width="1" height="10" fill="#1c1c1c"/><rect x="500" y="303" width="3" height="8" fill="#000"/><rect x="501" y="304" width="1" height="6" fill="#ee0000"/><rect x="503" y="304" width="1" height="7" fill="#1c1c1c"/><rect x="502" y="304" width="3" height="7" fill="#000"/><rect x="503" y="305" width="1" height="5" fill="#ffffff"/><rect x="505" y="291" width="1" height="15" fill="#1c1c1c"/><rect x="504" y="291" width="3" height="15" fill="#000"/><rect x="505" y="292" width="1" height="13" fill="#ffffff"/><rect x="507" y="278" width="1" height="14" fill="#1c1c1c"/><rect x="506" y="286" width="3" height="6" fill="#000"/><rect x="507" y="287" width="1" height="4" fill="#ffffff"/><rect x="509" y="278" width="1" height="10" fill="#1c1c1c"/><rect x="508" y="280" width="3" height="8" fill="#000"/><rect x="509" y="281" width="1" height="6" fill="#ffffff"/><rect x="512" y="271" width="1" height="14" fill="#1c1c1c"/><rect x="511" y="271" width="3" height="14" fill="#000"/><rect x="512" y="272" width="1" height="12" fill="#ffffff"/><rect x="514" y="252" width="1" height="9" fill="#1c1c1c"/><rect x="513" y="258" width="3" height="3" fill="#000"/><rect x="514" y="259" width="1" height="1" fill="#ffffff"/><rect x="516" y="252" width="1" height="14" fill="#1c1c1c"/><rect x="515" y="260" width="3" height="6" fill="#000"/><rect x="516" y="261" width="1" height="4" fill="#ee0000"/><rect x="518" y="265" width="1" height="20" fill="#1c1c1c"/><rect x="517" y="265" width="3" height="18" fill="#000"/><rect x="518" y="266" width="1" height="16" fill="#ee0000"/><rect x="520" y="270" width="1" height="25" fill="#1c1c1c"/><rect x="519" y="273" width="3" height="14" fill="#000"/><rect x="520" y="274" width="1" height="12" fill="#000000"/><rect x="522" y="269" width="1" height="19" fill="#1c1c1c"/><rect x="521" y="273" width="3" height="15" fill="#000"/><rect x="522" y="274" width="1" height="13" fill="#ee0000"/><rect x="524" y="280" width="1" height="11" fill="#1c1c1c"/><rect x="523" y="280" width="3" height="11" fill="#000"/><rect x="524" y="281" width="1" height="9" fill="#000000"/><rect x="526" y="284" width="1" height="22" fill="#1c1c1c"/><rect x="525" y="285" width="3" height="18" fill="#000"/><rect x="526" y="286" width="1" height="16" fill="#ee0000"/><rect x="528" y="278" width="1" height="25" fill="#1c1c1c"/><rect x="527" y="278" width="3" height="25" fill="#000"/><rect x="528" y="279" width="1" height="23" fill="#ffffff"/><rect x="531" y="271" width="1" height="19" fill="#1c1c1c"/><rect x="530" y="271" width="3" height="19" fill="#000"/><rect x="531" y="272" width="1" height="17" fill="#ffffff"/><rect x="533" y="260" width="1" height="14" fill="#1c1c1c"/><rect x="532" y="262" width="3" height="12" fill="#000"/><rect x="533" y="263" width="1" height="10" fill="#ffffff"/><rect x="535" y="256" width="1" height="21" fill="#1c1c1c"/><rect x="534" y="263" width="3" height="11" fill="#000"/><rect x="535" y="264" width="1" height="9" fill="#ee0000"/><rect x="538" y="262" width="1" height="15" fill="#1c1c1c"/><rect x="537" y="262" width="3" height="12" fill="#000"/><rect x="538" y="263" width="1" height="10" fill="#ffffff"/><rect x="540" y="256" width="1" height="10" fill="#1c1c1c"/><rect x="539" y="260" width="3" height="4" fill="#000"/><rect x="540" y="261" width="1" height="2" fill="#ffffff"/><rect x="542" y="258" width="1" height="3" fill="#1c1c1c"/><rect x="541" y="258" width="3" height="3" fill="#000"/><rect x="542" y="259" width="1" height="1" fill="#ffffff"/><rect x="543" y="255" width="1" height="4" fill="#1c1c1c"/><rect x="542" y="255" width="3" height="4" fill="#000"/><rect x="543" y="256" width="1" height="2" fill="#ffffff"/><rect x="545" y="248" width="1" height="8" fill="#1c1c1c"/><rect x="544" y="248" width="3" height="8" fill="#000"/><rect x="545" y="249" width="1" height="6" fill="#ffffff"/><rect x="547" y="243" width="1" height="28" fill="#1c1c1c"/><rect x="546" y="248" width="3" height="5" fill="#000"/><rect x="547" y="249" width="1" height="3" fill="#ffffff"/><rect x="550" y="250" width="1" height="16" fill="#1c1c1c"/><rect x="549" y="254" width="3" height="12" fill="#000"/><rect x="550" y="255" width="1" height="10" fill="#ee0000"/><rect x="553" y="243" width="1" height="23" fill="#1c1c1c"/><rect x="552" y="250" width="3" height="16" fill="#000"/><rect x="553" y="251" width="1" height="14" fill="#ffffff"/><rect x="554" y="248" width="1" height="6" fill="#1c1c1c"/><rect x="553" y="250" width="3" height="4" fill="#000"/><rect x="554" y="251" width="1" height="2" fill="#ee0000"/><rect x="556" y="248" width="1" height="11" fill="#1c1c1c"/><rect x="555" y="248" width="3" height="11" fill="#000"/><rect x="556" y="249" width="1" height="9" fill="#000000"/><rect x="558" y="241" width="1" height="16" fill="#1c1c1c"/><rect x="557" y="241" width="3" height="16" fill="#000"/><rect x="558" y="242" width="1" height="14" fill="#ffffff"/><rect x="560" y="231" width="1" height="11" fill="#1c1c1c"/><rect x="559" y="235" width="3" height="7" fill="#000"/><rect x="560" y="236" width="1" height="5" fill="#ffffff"/><rect x="562" y="231" width="1" height="6" fill="#1c1c1c"/><rect x="561" y="235" width="3" height="2" fill="#000"/><rect x="564" y="235" width="1" height="2" fill="#1c1c1c"/><rect x="563" y="235" width="3" height="2" fill="#000"/><rect x="566" y="219" width="1" height="17" fill="#1c1c1c"/><rect x="565" y="219" width="3" height="17" fill="#000"/><rect x="566" y="220" width="1" height="15" fill="#ffffff"/><rect x="569" y="206" width="1" height="17" fill="#1c1c1c"/><rect x="568" y="206" width="3" height="16" fill="#000"/><rect x="569" y="207" width="1" height="14" fill="#ffffff"/><rect x="571" y="199" width="1" height="7" fill="#1c1c1c"/><rect x="570" y="199" width="3" height="2" fill="#000"/><rect x="573" y="182" width="1" height="18" fill="#1c1c1c"/><rect x="572" y="182" width="3" height="12" fill="#000"/><rect x="573" y="183" width="1" height="10" fill="#ffffff"/><rect x="575" y="165" width="1" height="19" fill="#1c1c1c"/><rect x="574" y="168" width="3" height="16" fill="#000"/><rect x="575" y="169" width="1" height="14" fill="#ffffff"/><rect x="577" y="180" width="1" height="23" fill="#1c1c1c"/><rect x="576" y="186" width="3" height="12" fill="#000"/><rect x="577" y="187" width="1" height="10" fill="#ee0000"/><rect x="579" y="188" width="1" height="4" fill="#1c1c1c"/><rect x="578" y="188" width="3" height="4" fill="#000"/><rect x="579" y="189" width="1" height="2" fill="#ffffff"/><rect x="581" y="181" width="1" height="8" fill="#1c1c1c"/><rect x="580" y="185" width="3" height="4" fill="#000"/><rect x="581" y="186" width="1" height="2" fill="#ffffff"/><rect x="583" y="175" width="1" height="14" fill="#1c1c1c"/><rect x="582" y="185" width="3" height="4" fill="#000"/><rect x="583" y="186" width="1" height="2" fill="#ee0000"/><rect x="585" y="188" width="1" height="13" fill="#1c1c1c"/><rect x="584" y="188" width="3" height="8" fill="#000"/><rect x="585" y="189" width="1" height="6" fill="#ee0000"/><rect x="587" y="189" width="1" height="9" fill="#1c1c1c"/><rect x="586" y="189" width="3" height="7" fill="#000"/><rect x="587" y="190" width="1" height="5" fill="#ffffff"/><rect x="589" y="181" width="1" height="8" fill="#1c1c1c"/><rect x="588" y="181" width="3" height="8" fill="#000"/><rect x="589" y="182" width="1" height="6" fill="#ffffff"/><rect x="590" y="165" width="1" height="17" fill="#1c1c1c"/><rect x="589" y="165" width="3" height="17" fill="#000"/><rect x="590" y="166" width="1" height="15" fill="#ffffff"/><rect x="592" y="151" width="1" height="13" fill="#1c1c1c"/><rect x="591" y="151" width="3" height="8" fill="#000"/><rect x="592" y="152" width="1" height="6" fill="#ffffff"/><rect x="594" y="151" width="1" height="6" fill="#1c1c1c"/><rect x="593" y="151" width="3" height="6" fill="#000"/><rect x="594" y="152" width="1" height="4" fill="#ee0000"/><rect x="596" y="156" width="1" height="26" fill="#1c1c1c"/><rect x="595" y="158" width="3" height="24" fill="#000"/><rect x="596" y="159" width="1" height="22" fill="#ee0000"/><rect x="598" y="181" width="1" height="5" fill="#1c1c1c"/><rect x="597" y="181" width="3" height="5" fill="#000"/><rect x="598" y="182" width="1" height="3" fill="#ee0000"/><rect x="600" y="185" width="1" height="16" fill="#1c1c1c"/><rect x="599" y="185" width="3" height="9" fill="#000"/><rect x="600" y="186" width="1" height="7" fill="#ee0000"/><rect x="602" y="177" width="1" height="17" fill="#1c1c1c"/><rect x="601" y="177" width="3" height="17" fill="#000"/><rect x="602" y="178" width="1" height="15" fill="#ffffff"/><rect x="604" y="177" width="1" height="10" fill="#1c1c1c"/><rect x="603" y="177" width="3" height="8" fill="#000"/><rect x="604" y="178" width="1" height="6" fill="#ee0000"/><rect x="606" y="153" width="1" height="31" fill="#1c1c1c"/><rect x="605" y="153" width="3" height="31" fill="#000"/><rect x="606" y="154" width="1" height="29" fill="#ffffff"/><rect x="608" y="135" width="1" height="19" fill="#1c1c1c"/><rect x="607" y="135" width="3" height="19" fill="#000"/><rect x="608" y="136" width="1" height="17" fill="#ffffff"/><rect x="609" y="129" width="1" height="12" fill="#1c1c1c"/><rect x="608" y="131" width="3" height="5" fill="#000"/><rect x="609" y="132" width="1" height="3" fill="#ffffff"/><rect x="611" y="115" width="1" height="16" fill="#1c1c1c"/><rect x="610" y="115" width="3" height="16" fill="#000"/><rect x="611" y="116" width="1" height="14" fill="#ffffff"/><rect x="613" y="109" width="1" height="10" fill="#1c1c1c"/><rect x="612" y="114" width="3" height="5" fill="#000"/><rect x="613" y="115" width="1" height="3" fill="#ee0000"/><rect x="615" y="103" width="1" height="25" fill="#1c1c1c"/><rect x="614" y="113" width="3" height="13" fill="#000"/><rect x="615" y="114" width="1" height="11" fill="#ffffff"/><rect x="617" y="108" width="1" height="19" fill="#1c1c1c"/><rect x="616" y="113" width="3" height="12" fill="#000"/><rect x="617" y="114" width="1" height="10" fill="#ee0000"/><rect x="619" y="118" width="1" height="15" fill="#1c1c1c"/><rect x="618" y="118" width="3" height="8" fill="#000"/><rect x="619" y="119" width="1" height="6" fill="#ffffff"/><rect x="621" y="101" width="1" height="18" fill="#1c1c1c"/><rect x="620" y="109" width="3" height="10" fill="#000"/><rect x="621" y="110" width="1" height="8" fill="#ffffff"/><rect x="623" y="92" width="1" height="9" fill="#1c1c1c"/><rect x="622" y="96" width="3" height="5" fill="#000"/><rect x="623" y="97" width="1" height="3" fill="#ffffff"/><rect x="625" y="92" width="1" height="11" fill="#1c1c1c"/><rect x="624" y="97" width="3" height="6" fill="#000"/><rect x="625" y="98" width="1" height="4" fill="#ee0000"/><rect x="626" y="102" width="1" height="10" fill="#1c1c1c"/><rect x="625" y="102" width="3" height="7" fill="#000"/><rect x="626" y="103" width="1" height="5" fill="#ee0000"/><rect x="628" y="96" width="1" height="13" fill="#1c1c1c"/><rect x="627" y="100" width="3" height="9" fill="#000"/><rect x="628" y="101" width="1" height="7" fill="#ffffff"/><rect x="630" y="102" width="1" height="14" fill="#1c1c1c"/><rect x="629" y="102" width="3" height="11" fill="#000"/><rect x="630" y="103" width="1" height="9" fill="#ee0000"/><rect x="632" y="96" width="1" height="23" fill="#1c1c1c"/><rect x="631" y="96" width="3" height="17" fill="#000"/><rect x="632" y="97" width="1" height="15" fill="#ffffff"/><rect x="634" y="96" width="1" height="4" fill="#1c1c1c"/><rect x="633" y="97" width="3" height="3" fill="#000"/><rect x="634" y="98" width="1" height="1" fill="#ee0000"/><rect x="636" y="92" width="1" height="16" fill="#1c1c1c"/><rect x="635" y="92" width="3" height="6" fill="#000"/><rect x="636" y="93" width="1" height="4" fill="#ffffff"/><rect x="638" y="84" width="1" height="10" fill="#1c1c1c"/><rect x="637" y="87" width="3" height="7" fill="#000"/><rect x="638" y="88" width="1" height="5" fill="#ffffff"/><rect x="640" y="72" width="1" height="16" fill="#1c1c1c"/><rect x="639" y="78" width="3" height="10" fill="#000"/><rect x="640" y="79" width="1" height="8" fill="#ffffff"/><rect x="642" y="74" width="1" height="5" fill="#1c1c1c"/><rect x="641" y="76" width="3" height="3" fill="#000"/><rect x="642" y="77" width="1" height="1" fill="#ffffff"/><rect x="644" y="57" width="1" height="20" fill="#1c1c1c"/><rect x="643" y="57" width="3" height="20" fill="#000"/><rect x="644" y="58" width="1" height="18" fill="#ffffff"/><rect x="645" y="49" width="1" height="9" fill="#1c1c1c"/><rect x="644" y="53" width="3" height="5" fill="#000"/><rect x="645" y="54" width="1" height="3" fill="#ffffff"/><rect x="647" y="50" width="1" height="12" fill="#1c1c1c"/><rect x="646" y="52" width="3" height="4" fill="#000"/><rect x="647" y="53" width="1" height="2" fill="#ffffff"/><rect x="649" y="37" width="1" height="19" fill="#1c1c1c"/><rect x="648" y="39" width="3" height="17" fill="#000"/><rect x="649" y="40" width="1" height="15" fill="#ffffff"/><rect x="651" y="38" width="1" height="15" fill="#1c1c1c"/><rect x="650" y="40" width="3" height="4" fill="#000"/><rect x="651" y="41" width="1" height="2" fill="#ee0000"/><rect x="653" y="35" width="1" height="58" fill="#1c1c1c"/><rect x="652" y="44" width="3" height="49" fill="#000"/><rect x="653" y="45" width="1" height="47" fill="#ee0000"/><rect x="655" y="89" width="1" height="57" fill="#1c1c1c"/><rect x="654" y="89" width="3" height="46" fill="#000"/><rect x="655" y="90" width="1" height="44" fill="#ee0000"/></g>
<polygon points="368.3,471.5 672.7,18.0 685.5,18 685.5,75.0 418.5,471.5" fill="rgba(0,0,255,0.075)"/>
<line x1="368.3" y1="471.5" x2="672.7" y2="18.0" stroke="#6464ff" stroke-width="1.1"/>
<line x1="418.5" y1="471.5" x2="684.6" y2="75.0" stroke="#6464ff" stroke-width="1.1"/>
<g shape-rendering="crispEdges"><rect x="11" y="75" width="675" height="1" fill="#6666f6"/><rect x="11" y="150" width="675" height="1" fill="#6666f6"/></g>
<g shape-rendering="crispEdges"><rect x="10" y="18" width="676" height="1" fill="#000"/><rect x="10" y="468" width="676" height="1" fill="#000"/><rect x="10" y="18" width="1" height="451" fill="#000"/><rect x="685" y="18" width="1" height="451" fill="#000"/><rect x="681" y="463" width="4" height="1" fill="#000"/><rect x="681" y="430" width="4" height="1" fill="#000"/><rect x="681" y="399" width="4" height="1" fill="#000"/><rect x="681" y="370" width="4" height="1" fill="#000"/><rect x="681" y="343" width="4" height="1" fill="#000"/><rect x="681" y="318" width="4" height="1" fill="#000"/><rect x="681" y="294" width="4" height="1" fill="#000"/><rect x="681" y="271" width="4" height="1" fill="#000"/><rect x="681" y="250" width="4" height="1" fill="#000"/><rect x="681" y="229" width="4" height="1" fill="#000"/><rect x="681" y="210" width="4" height="1" fill="#000"/><rect x="681" y="191" width="4" height="1" fill="#000"/><rect x="681" y="173" width="4" height="1" fill="#000"/><rect x="681" y="156" width="4" height="1" fill="#000"/><rect x="681" y="140" width="4" height="1" fill="#000"/><rect x="681" y="124" width="4" height="1" fill="#000"/><rect x="681" y="109" width="4" height="1" fill="#000"/><rect x="681" y="94" width="4" height="1" fill="#000"/><rect x="681" y="80" width="4" height="1" fill="#000"/><rect x="681" y="67" width="4" height="1" fill="#000"/><rect x="681" y="53" width="4" height="1" fill="#000"/><rect x="681" y="40" width="4" height="1" fill="#000"/><rect x="681" y="28" width="4" height="1" fill="#000"/><rect x="33" y="465" width="1" height="3" fill="#000"/><rect x="73" y="465" width="1" height="3" fill="#000"/><rect x="115" y="465" width="1" height="3" fill="#000"/><rect x="157" y="465" width="1" height="3" fill="#000"/><rect x="197" y="465" width="1" height="3" fill="#000"/><rect x="239" y="465" width="1" height="3" fill="#000"/><rect x="277" y="465" width="1" height="3" fill="#000"/><rect x="315" y="465" width="1" height="3" fill="#000"/><rect x="358" y="465" width="1" height="3" fill="#000"/><rect x="396" y="465" width="1" height="3" fill="#000"/><rect x="436" y="465" width="1" height="3" fill="#000"/><rect x="478" y="465" width="1" height="3" fill="#000"/><rect x="516" y="465" width="1" height="3" fill="#000"/><rect x="558" y="465" width="1" height="3" fill="#000"/><rect x="598" y="465" width="1" height="3" fill="#000"/><rect x="638" y="465" width="1" height="3" fill="#000"/></g>
<text x="688.5" y="468.0" font-size="11" fill="#000">12</text><text x="688.5" y="435.0" font-size="11" fill="#000">13</text><text x="688.5" y="404.0" font-size="11" fill="#000">14</text><text x="688.5" y="375.0" font-size="11" fill="#000">15</text><text x="688.5" y="348.0" font-size="11" fill="#000">16</text><text x="688.5" y="323.0" font-size="11" fill="#000">17</text><text x="688.5" y="299.0" font-size="11" fill="#000">18</text><text x="688.5" y="276.0" font-size="11" fill="#000">19</text><text x="688.5" y="255.0" font-size="11" fill="#000">20</text><text x="688.5" y="234.0" font-size="11" fill="#000">21</text><text x="688.5" y="215.0" font-size="11" fill="#000">22</text><text x="688.5" y="196.0" font-size="11" fill="#000">23</text><text x="688.5" y="178.0" font-size="11" fill="#000">24</text><text x="688.5" y="161.0" font-size="11" fill="#000">25</text><text x="688.5" y="145.0" font-size="11" fill="#000">26</text><text x="688.5" y="129.0" font-size="11" fill="#000">27</text><text x="688.5" y="114.0" font-size="11" fill="#000">28</text><text x="688.5" y="99.0" font-size="11" fill="#000">29</text><text x="688.5" y="85.0" font-size="11" fill="#000">30</text><text x="688.5" y="72.0" font-size="11" fill="#000">31</text><text x="688.5" y="58.0" font-size="11" fill="#000">32</text><text x="688.5" y="45.0" font-size="11" fill="#000">33</text><text x="688.5" y="33.0" font-size="11" fill="#000">34</text><text transform="translate(42.5,462.6) rotate(-90)" font-size="11" font-weight="bold" fill="#484848" textLength="53.3" lengthAdjust="spacingAndGlyphs">August 09</text><text transform="translate(83.5,462.6) rotate(-90)" font-size="11" font-weight="normal" fill="#505050" textLength="48.3" lengthAdjust="spacingAndGlyphs">September</text><text transform="translate(125.5,462.6) rotate(-90)" font-size="11" font-weight="normal" fill="#505050" textLength="36.5" lengthAdjust="spacingAndGlyphs">Oktober</text><text transform="translate(167.5,462.6) rotate(-90)" font-size="11" font-weight="normal" fill="#505050" textLength="46.6" lengthAdjust="spacingAndGlyphs">November</text><text transform="translate(207.5,462.6) rotate(-90)" font-size="11" font-weight="normal" fill="#505050" textLength="44.4" lengthAdjust="spacingAndGlyphs">Dezember</text><text transform="translate(249.3,462.6) rotate(-90)" font-size="11" font-weight="bold" fill="#484848" textLength="51.7" lengthAdjust="spacingAndGlyphs">Januar 10</text><text transform="translate(287.5,462.6) rotate(-90)" font-size="11" font-weight="normal" fill="#505050" textLength="33.1" lengthAdjust="spacingAndGlyphs">Februar</text><text transform="translate(325.5,462.6) rotate(-90)" font-size="11" font-weight="normal" fill="#505050" textLength="22.2" lengthAdjust="spacingAndGlyphs">März</text><text transform="translate(368.5,462.6) rotate(-90)" font-size="11" font-weight="normal" fill="#505050" textLength="23.2" lengthAdjust="spacingAndGlyphs">April</text><text transform="translate(406.5,462.6) rotate(-90)" font-size="11" font-weight="normal" fill="#505050" textLength="15.5" lengthAdjust="spacingAndGlyphs">Mai</text><text transform="translate(446.5,462.6) rotate(-90)" font-size="11" font-weight="normal" fill="#505050" textLength="18.0" lengthAdjust="spacingAndGlyphs">Juni</text><text transform="translate(488.5,462.6) rotate(-90)" font-size="11" font-weight="normal" fill="#505050" textLength="14.1" lengthAdjust="spacingAndGlyphs">Juli</text><text transform="translate(526.5,462.6) rotate(-90)" font-size="11" font-weight="normal" fill="#505050" textLength="31.8" lengthAdjust="spacingAndGlyphs">August</text><text transform="translate(568.5,462.6) rotate(-90)" font-size="11" font-weight="normal" fill="#505050" textLength="48.3" lengthAdjust="spacingAndGlyphs">September</text><text transform="translate(608.5,462.6) rotate(-90)" font-size="11" font-weight="normal" fill="#505050" textLength="36.5" lengthAdjust="spacingAndGlyphs">Oktober</text><text transform="translate(648.5,462.6) rotate(-90)" font-size="11" font-weight="normal" fill="#505050" textLength="46.6" lengthAdjust="spacingAndGlyphs">November</text>
<g shape-rendering="crispEdges"><rect x="15.5" y="22.5" width="9" height="9" fill="none" stroke="#000" stroke-width="1"/></g>
<text x="30.5" y="31" font-size="13" fill="#000">Zucker</text>
<text x="580.5" y="10.6" font-size="10.3" fill="#9c9c9c" textLength="102.5" lengthAdjust="spacing">© godmode-trader.de</text>
</svg>
</body></html>
